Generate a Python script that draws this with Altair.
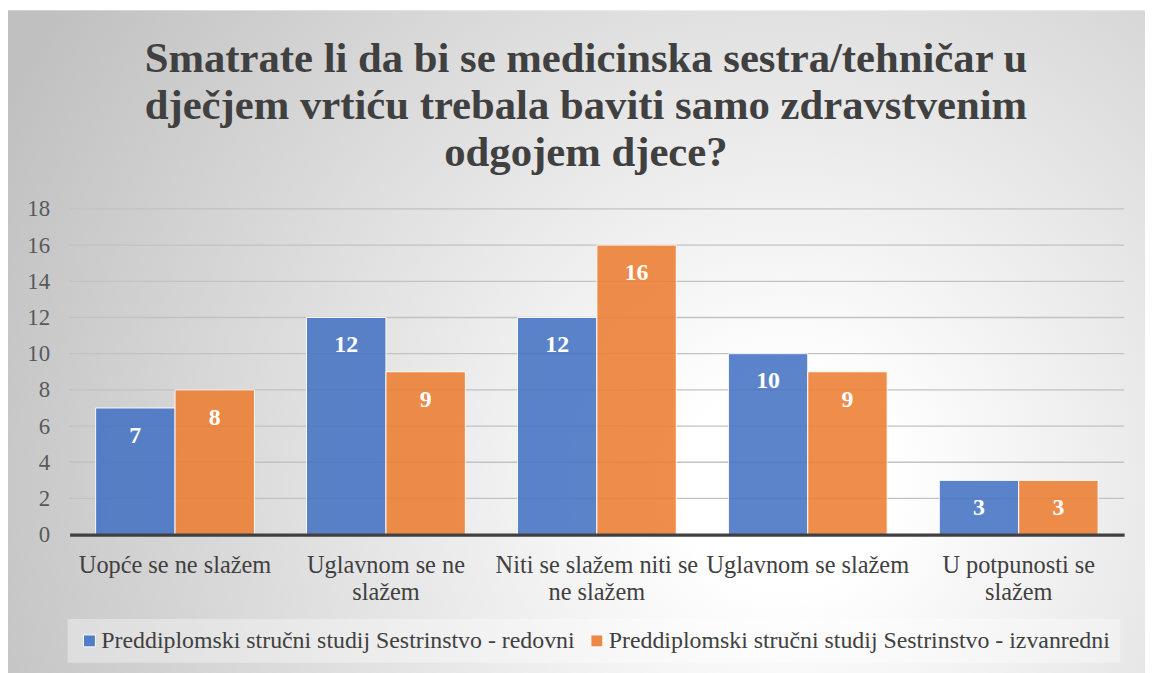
import altair as alt
import pandas as pd

categories = ["Uopće se ne slažem", "Uglavnom se ne slažem",
              "Niti se slažem niti se ne slažem", "Uglavnom se slažem",
              "U potpunosti se slažem"]
label_lines = [["Uopće se ne slažem"], ["Uglavnom se ne", "slažem"],
               ["Niti se slažem niti se", "ne slažem"], ["Uglavnom se slažem"],
               ["U potpunosti se", "slažem"]]
series = ["Preddiplomski stručni studij Sestrinstvo - redovni",
          "Preddiplomski stručni studij Sestrinstvo - izvanredni"]
redovni = [7, 12, 12, 10, 3]
izvanredni = [8, 9, 16, 9, 3]
grid_ticks = [2, 4, 6, 8, 10, 12, 14, 16, 18]
y_ticks = [0, 2, 4, 6, 8, 10, 12, 14, 16, 18]
title_lines = ["Smatrate li da bi se medicinska sestra/tehničar u",
               "dječjem vrtiću trebala baviti samo zdravstvenim",
               "odgojem djece?"]

rows = []
for c, a, b in zip(categories, redovni, izvanredni):
    rows.append({"cat": c, "series": series[0], "value": a})
    rows.append({"cat": c, "series": series[1], "value": b})
df = pd.DataFrame(rows)

label_expr = ""
for c, ls in zip(categories, label_lines):
    arr = "[" + ",".join("'" + l + "'" for l in ls) + "]"
    label_expr += f"datum.value == '{c}' ? {arr} : "
label_expr += "datum.label"

W, H = 1062, 328
FONT = "Liberation Serif"
yscale = alt.Scale(domain=[0, 18])
xscale = alt.Scale(paddingInner=0.247, paddingOuter=0.1235)

xaxis = alt.Axis(labelExpr=label_expr, labelAngle=0, labelFont=FONT, labelFontSize=24.5,
                 labelColor="#404040", ticks=False, labelPadding=19, labelLineHeight=27,
                 domainColor="#404040", domainWidth=3.5, zindex=1, labelLimit=400,
                 grid=False)
yaxis = alt.Axis(values=y_ticks, grid=False, labelOverlap=False, ticks=False,
                 domain=False, labelFont=FONT, labelFontSize=23, labelColor="#595959",
                 labelPadding=20, zindex=1)

bg = alt.Chart(pd.DataFrame({"a": [0]})).mark_rect(
    fill=alt.RadialGradient(
        gradient="radial",
        stops=[alt.GradientStop(color="#ffffff", offset=0),
               alt.GradientStop(color="#ffffff", offset=0.12),
               alt.GradientStop(color="#c0c0c0", offset=1)],
        x1=0.68, y1=0.62, r1=0, x2=0.68, y2=0.62, r2=0.76)
).encode(x=alt.value(-62), x2=alt.value(W + 30), y=alt.value(-200), y2=alt.value(H + 150))

grid = alt.Chart(pd.DataFrame({"value": grid_ticks})).mark_rule(
    color="#c2c2c2", strokeWidth=1.3
).encode(y=alt.Y("value:Q", scale=yscale, title=None, axis=yaxis))

bars = alt.Chart(df).mark_bar(stroke="white", strokeWidth=1, opacity=0.87).encode(
    x=alt.X("cat:N", sort=categories, title=None, scale=xscale, axis=xaxis),
    y=alt.Y("value:Q", title=None, scale=yscale, axis=yaxis),
    xOffset=alt.XOffset("series:N", sort=series),
    color=alt.Color("series:N", sort=series,
                    scale=alt.Scale(domain=series, range=["#4472C4", "#ED7D31"]),
                    legend=alt.Legend(title=None, orient="none", legendX=-2, legendY=413,
                                      direction="horizontal", columns=2, labelFont=FONT,
                                      labelFontSize=24, labelColor="#404040",
                                      symbolType="square", symbolSize=144,
                                      symbolStrokeColor="white", symbolStrokeWidth=1,
                                      symbolOpacity=0.9, labelOffset=0,
                                      columnPadding=10, padding=10, labelLimit=700,
                                      fillColor="rgba(255,255,255,0.35)", zindex=1))
)

text = alt.Chart(df).mark_text(font=FONT, fontSize=24, fontWeight="bold", color="white",
                               baseline="middle", dy=28).encode(
    x=alt.X("cat:N", sort=categories, title=None, scale=xscale, axis=xaxis),
    xOffset=alt.XOffset("series:N", sort=series),
    y=alt.Y("value:Q", title=None, scale=yscale, axis=yaxis),
    text="value:Q")

chart = alt.layer(bg, grid, bars, text).properties(
    width=W, height=H,
    title=alt.TitleParams(text=title_lines, font=FONT, fontSize=43, fontWeight="bold",
                          color="#404040", lineHeight=47.5, anchor="middle", dx=-11,
                          frame="group", offset=30, dy=196, zindex=1),
    autosize=alt.AutoSizeParams(type="none"),
    padding={"left": 62, "top": 200, "right": 21, "bottom": 137},
).configure(background="#ffffff", font=FONT).configure_view(stroke=None)

chart.save("out.html", embed_options={"renderer": "svg", "actions": False})
